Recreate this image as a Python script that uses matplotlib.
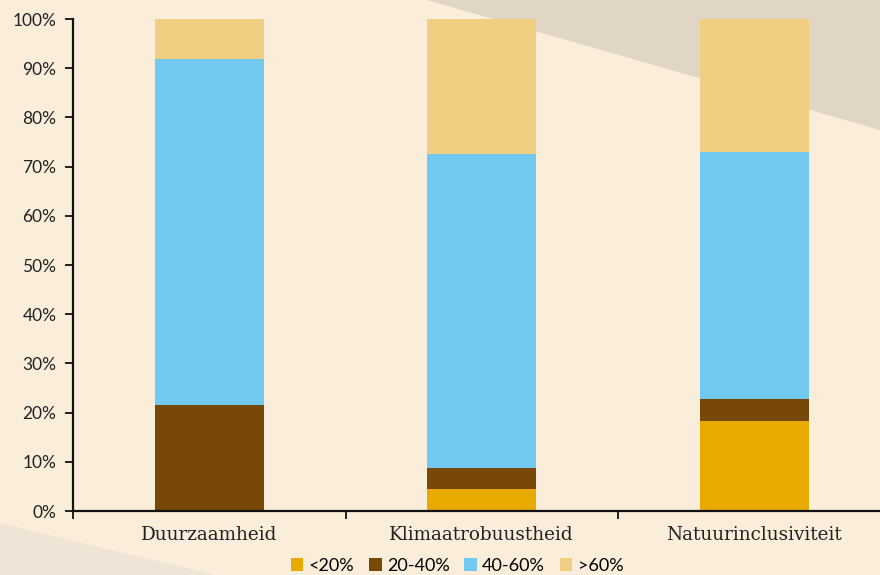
import numpy as np
import matplotlib
matplotlib.use("Agg")
from matplotlib import pyplot as plt
from matplotlib.patches import Polygon

categories = ["Duurzaamheid", "Klimaatrobuustheid", "Natuurinclusiviteit"]
series_names = ["<20%", "20-40%", "40-60%", ">60%"]
lt20 = [0.0, 4.5, 18.3]
p20_40 = [21.6, 4.2, 4.5]
p40_60 = [70.3, 63.9, 50.2]
gt60 = [8.1, 27.4, 27.0]
colors = ["#E8AA00", "#774808", "#72C9EF", "#F2CE82"]
yticks = np.arange(0, 101, 10)

bg = "#FAEEDA"
fig = plt.figure(figsize=(8.8, 5.75), dpi=100, facecolor=bg)

# background shapes (figure coords), kept behind the axes
fig.patches.append(Polygon([(427/880, 1), (1, 1), (1, 1 - 130/575)], closed=True,
                           transform=fig.transFigure, facecolor="#E1D5C6", edgecolor="none", zorder=-5))
fig.patches.append(Polygon([(0, 1 - 523/575), (0, 0), (215/880, 0)], closed=True,
                           transform=fig.transFigure, facecolor="#EFE4D6", edgecolor="none", zorder=-5))

ax = fig.add_axes([73/880, 1 - 511/575, (890.5 - 73)/880, (511 - 19)/575])
ax.patch.set_alpha(0)
ax.set_zorder(2)

x = np.arange(len(categories))
bottom = np.zeros(len(categories))
for name, vals, c in zip(series_names, [lt20, p20_40, p40_60, gt60], colors):
    ax.bar(x, vals, 0.4, bottom=bottom, color=c, label=name, zorder=2)
    bottom += np.array(vals)

ax.set_xlim(-0.5, 2.5)
ax.set_ylim(0, 100)
ax.set_yticks(yticks)
ax.set_yticklabels([f"{v}%" for v in yticks], fontsize=12.5, family=["Lato", "DejaVu Sans"], color="#222222")

ax.set_xticks(x)
ax.set_xticklabels(categories, fontsize=13.2, family="DejaVu Serif", color="#222222")
ax.tick_params(axis="x", length=0, pad=11)
ax.set_xticks([-0.5, 0.5, 1.5, 2.5], minor=True)
ax.tick_params(axis="x", which="minor", length=6, width=1.3, color="#111111")
ax.tick_params(axis="y", length=6, width=1.3, color="#111111", pad=6)

for s in ["top", "right"]:
    ax.spines[s].set_visible(False)
for s in ["left", "bottom"]:
    ax.spines[s].set_linewidth(1.6)
    ax.spines[s].set_color("#111111")

fig.legend(loc="center", bbox_to_anchor=(457/880, 1 - 566/575), ncol=4, frameon=False,
           handlelength=0.7, handleheight=0.7, handletextpad=0.3, columnspacing=0.8,
           prop={"family": ["Lato", "DejaVu Sans"], "size": 13})

fig.savefig("out.png", dpi=100, facecolor=bg)
